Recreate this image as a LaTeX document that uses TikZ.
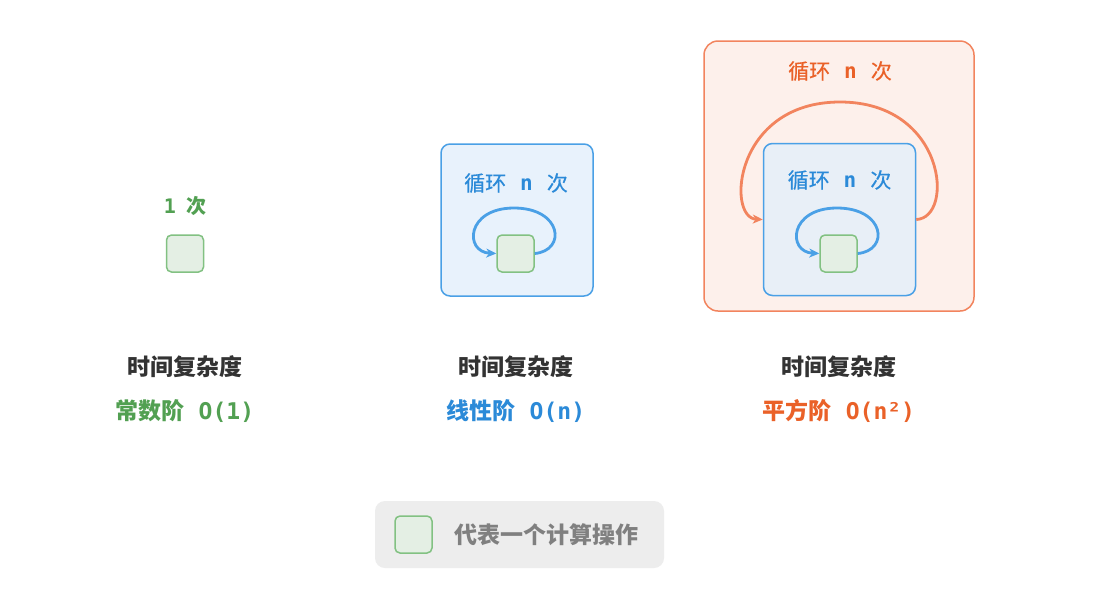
\documentclass[tikz,border=0pt]{standalone}
\usepackage{fontspec}
\setmainfont{Noto Sans CJK SC}
\setmonofont{DejaVu Sans Mono}
\newfontfamily\cjkmed[FakeBold=0.6]{Noto Sans CJK SC}
\usetikzlibrary{arrows.meta}
\definecolor{gstroke}{HTML}{82C182}
\definecolor{gfill}{HTML}{E4EFE4}
\definecolor{gtext}{HTML}{52A052}
\definecolor{bstroke}{HTML}{4AA0E6}
\definecolor{bfill}{HTML}{E8F2FC}
\definecolor{bfilltwo}{HTML}{E8EFF7}
\definecolor{btext}{HTML}{2B8AD8}
\definecolor{ostroke}{HTML}{F2845E}
\definecolor{ofill}{HTML}{FDF0EB}
\definecolor{otext}{HTML}{EA6128}
\definecolor{dtext}{HTML}{333333}
\definecolor{ltext}{HTML}{808080}
\definecolor{legbg}{HTML}{EDEDED}
\newcommand{\lat}[1]{{\ttfamily\bfseries #1}}
\tikzset{
  opbox/.style={draw=gstroke, fill=gfill, line width=1.5pt, rounded corners=5pt, minimum width=37pt, minimum height=37pt, inner sep=0pt},
  bluebox/.style={draw=bstroke, line width=1.5pt, rounded corners=9pt, minimum width=152pt, minimum height=152pt, inner sep=0pt},
  orangebox/.style={draw=ostroke, fill=ofill, line width=1.5pt, rounded corners=14pt, minimum width=270pt, minimum height=270pt, inner sep=0pt},
  lbl/.style={font=\bfseries\fontsize{23}{27}\selectfont, inner sep=0pt},
  loopl/.style={font=\cjkmed\fontsize{21}{25}\selectfont, inner sep=0pt},
  small/.style={font=\bfseries\fontsize{20}{24}\selectfont, inner sep=0pt},
  loopb/.style={draw=bstroke, line width=2.8pt, -{Stealth[length=10pt,width=9pt,inset=3pt]}},
  loopo/.style={draw=ostroke, line width=2.8pt, -{Stealth[length=10pt,width=9pt,inset=3pt]}},
}
\begin{document}
\begin{tikzpicture}[x=1pt,y=-1pt]
\useasboundingbox (0,0) rectangle (1106,606);
\fill[white] (0,0) rectangle (1106,606);
% constant
\node[small, text=gtext] (onecount) at (185,206) {\lat{1}\hspace{10pt}次};
\node[opbox] (op1) at (185,253.5) {};
% linear
\node[bluebox, fill=bfill] (lin) at (517,220) {};
\node[loopl, text=btext] (linlbl) at (516,183) {循环\hspace{14pt}\lat{n}\hspace{14pt}次};
\node[opbox] (op2) at (515.5,253.5) {};
\coordinate (l2top) at (514,208);
\draw[loopb] (op2.east) .. controls +(32,-3) and (562,208) .. (l2top) .. controls (466,208) and (464,252) .. (op2.west);
% quadratic
\node[orangebox] (quad) at (839,176) {};
\node[loopl, text=otext] (quadlbl) at (840,71) {循环\hspace{14pt}\lat{n}\hspace{14pt}次};
\node[bluebox, fill=bfilltwo] (inner) at (839.5,219.5) {};
\node[loopl, text=btext] (innerlbl) at (839.5,180) {循环\hspace{14pt}\lat{n}\hspace{14pt}次};
\node[opbox] (op3) at (838.5,253.5) {};
\coordinate (l3top) at (837,208);
\draw[loopb] (op3.east) .. controls +(32,-3) and (885,208) .. (l3top) .. controls (789,208) and (787,252) .. (op3.west);
\coordinate (otop) at (840,102);
\draw[loopo] (inner.east) .. controls (955,218) and (946,102) .. (otop) .. controls (734,102) and (726,218) .. (inner.west);
% labels
\node[lbl, text=dtext] (t1) at (185,367) {时间复杂度};
\node[lbl, text=dtext] (t2) at (516,367) {时间复杂度};
\node[lbl, text=dtext] (t3) at (839,367) {时间复杂度};
\node[lbl, text=gtext] (c1) at (185,411) {常数阶\lat{ O(1)}};
\node[lbl, text=btext] (c2) at (516,411) {线性阶\lat{ O(n)}};
\node[lbl, text=otext] (c3) at (839,411) {平方阶\lat{ O(n²)}};
% legend
\node[fill=legbg, rounded corners=10pt, minimum width=289pt, minimum height=67pt, inner sep=0pt] (leg) at (519.5,534.5) {};
\node[opbox] (legop) at (413.5,534.5) {};
\node[lbl, text=ltext, anchor=west] (legtxt) at (454,534.5) {代表一个计算操作};
\end{tikzpicture}
\end{document}
